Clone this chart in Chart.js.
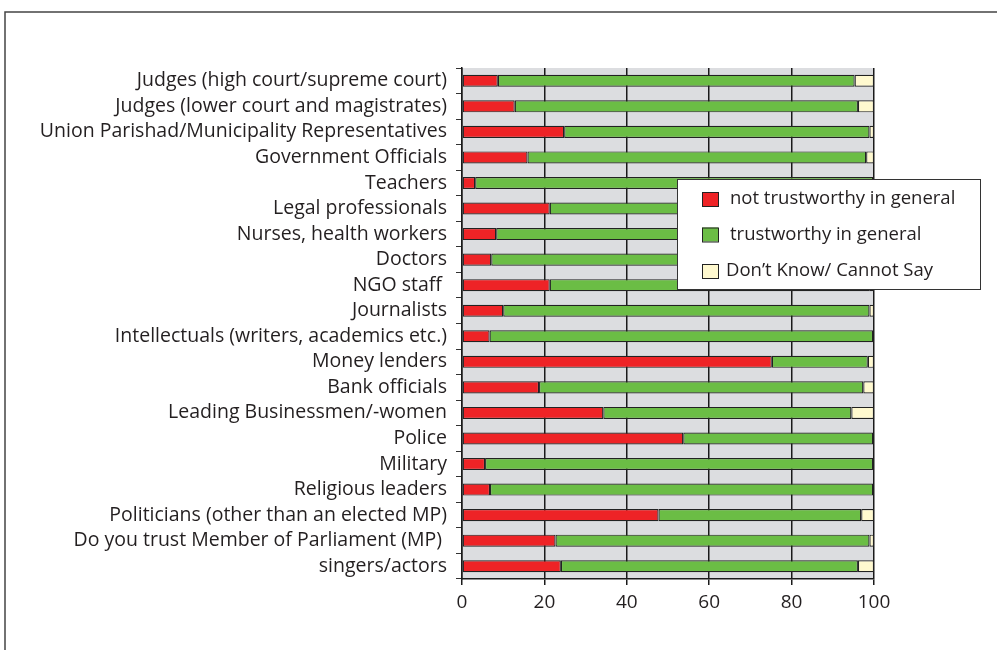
<!DOCTYPE html>
<html>
<head>
<meta charset="utf-8">
<script src="https://cdn.jsdelivr.net/npm/chart.js@4/dist/chart.umd.min.js"></script>
<style>
html,body{margin:0;padding:0;background:#fff;}
#wrap{width:997px;height:650px;position:relative;}
</style>
</head>
<body>
<div id="wrap"><canvas id="c" width="997" height="650"></canvas></div>
<script>
const categories = [
  "Judges (high court/supreme court)",
  "Judges (lower court and magistrates)",
  "Union Parishad/Municipality Representatives",
  "Government Officials",
  "Teachers",
  "Legal professionals",
  "Nurses, health workers",
  "Doctors",
  "NGO staff ",
  "Journalists",
  "Intellectuals (writers, academics etc.)",
  "Money lenders",
  "Bank officials",
  "Leading Businessmen/-women",
  "Police",
  "Military",
  "Religious leaders",
  "Politicians (other than an elected MP)",
  "Do you trust Member of Parliament (MP) ",
  "singers/actors"
];
const notTrustworthy = [8.7, 12.8, 24.8, 15.9, 3.2, 21.3, 8.3, 7.1, 21.3, 10.0, 6.7, 75.2, 18.7, 34.3, 53.7, 5.6, 6.8, 47.7, 22.7, 24.0];
const trustworthy    = [86.6, 83.3, 74.1, 82.2, 96.6, 77.7, 91.2, 92.4, 77.7, 88.9, 93.1, 23.3, 78.7, 60.2, 46.1, 94.2, 93.0, 49.2, 76.2, 72.1];
const dontKnow       = [4.7, 3.9, 1.1, 1.9, 0.2, 1.0, 0.5, 0.5, 1.0, 1.1, 0.2, 1.5, 2.6, 5.5, 0.2, 0.2, 0.2, 3.1, 1.1, 3.9];
const seriesLabels = ["not trustworthy in general", "trustworthy in general", "Don\u2019t Know/ Cannot Say"];
const xTicks = [0, 20, 40, 60, 80, 100];

const FONT = "'Open Sans', 'Noto Sans', sans-serif";
const TEXT = "#231f20";

const bgPlugin = {
  id: 'bg',
  beforeDraw(chart) {
    const ctx = chart.ctx, a = chart.chartArea;
    ctx.save();
    ctx.fillStyle = '#ffffff';
    ctx.fillRect(0, 0, chart.width, chart.height);
    ctx.strokeStyle = '#444';
    ctx.lineWidth = 1.5;
    ctx.beginPath();
    ctx.moveTo(5, 650);
    ctx.lineTo(5, 12);
    ctx.lineTo(997, 12);
    ctx.stroke();
    ctx.fillStyle = '#dcdde0';
    ctx.fillRect(a.left, a.top, a.right - a.left, a.bottom - a.top);
    ctx.restore();
  }
};

const legendPlugin = {
  id: 'customLegend',
  afterDraw(chart) {
    const ctx = chart.ctx;
    const x = 677, y = 179, w = 303, h = 110;
    ctx.save();
    ctx.fillStyle = '#fff';
    ctx.fillRect(x, y, w, h);
    ctx.strokeStyle = '#333';
    ctx.lineWidth = 1;
    ctx.strokeRect(x + 0.5, y + 0.5, w, h);
    const rows = [199, 234.5, 271];
    chart.data.datasets.forEach((ds, i) => {
      const cy = rows[i];
      ctx.fillStyle = ds.backgroundColor;
      ctx.fillRect(702, cy - 7, 16, 14);
      ctx.strokeStyle = '#222';
      ctx.lineWidth = 1;
      ctx.strokeRect(702.5, cy - 6.5, 16, 14);
      ctx.fillStyle = TEXT;
      ctx.font = "18.5px " + FONT;
      ctx.textBaseline = 'middle';
      ctx.textAlign = 'left';
      ctx.fillText(ds.label, i === 2 ? 726 : 730, cy);
    });
    ctx.restore();
  }
};

const colors = ['#ee2326', '#6bbd45', '#fff9cf'];
const values = [notTrustworthy, trustworthy, dontKnow];

new Chart(document.getElementById('c'), {
  type: 'bar',
  data: {
    labels: categories,
    datasets: seriesLabels.map((lab, i) => ({
      label: lab,
      data: values[i],
      backgroundColor: colors[i],
      borderColor: '#222',
      borderWidth: 1.2,
      borderSkipped: false,
      barPercentage: 0.47,
      categoryPercentage: 1.0
    }))
  },
  plugins: [bgPlugin, legendPlugin],
  options: {
    indexAxis: 'y',
    responsive: false,
    animation: false,
    devicePixelRatio: 1,
    layout: { padding: { top: 68, right: 123, left: 0, bottom: 0 } },
    plugins: {
      legend: { display: false },
      tooltip: { enabled: false },
      title: { display: false }
    },
    scales: {
      x: {
        stacked: true,
        min: 0,
        max: 100,
        afterBuildTicks(scale) { scale.ticks = xTicks.map(v => ({ value: v })); },
        afterFit(scale) { scale.height = 71; },
        grid: {
          color: '#1a1a1a',
          lineWidth: 1.5,
          drawTicks: true,
          tickLength: 6,
          tickColor: '#1a1a1a'
        },
        border: { display: true, color: '#1a1a1a', width: 1.5 },
        ticks: {
          color: TEXT,
          font: { size: 19, family: FONT },
          padding: 6,
          maxRotation: 0
        }
      },
      y: {
        stacked: true,
        afterFit(scale) { scale.width = 462; },
        grid: {
          drawOnChartArea: false,
          drawTicks: true,
          tickLength: 6,
          offset: true,
          color: '#333',
          lineWidth: 1
        },
        border: { display: true, color: '#1a1a1a', width: 1.5 },
        ticks: {
          color: TEXT,
          font: { size: 19.5, family: FONT },
          padding: 9,
          autoSkip: false
        }
      }
    }
  }
});
</script>
</body>
</html>
